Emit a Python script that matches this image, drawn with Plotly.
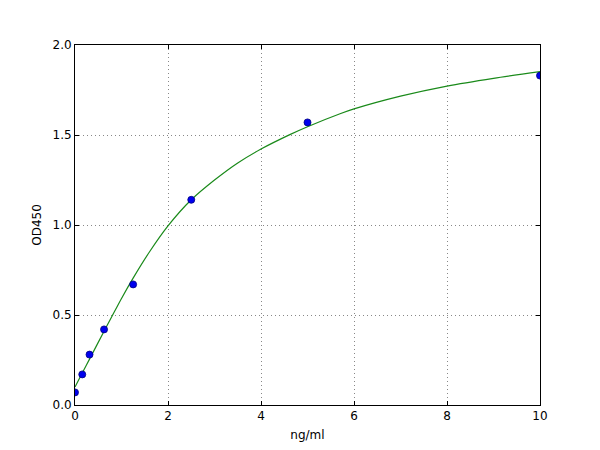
import plotly.graph_objects as go

# standard points
conc = [0, 0.156, 0.3125, 0.625, 1.25, 2.5, 5, 10]
od = [0.07, 0.17, 0.28, 0.42, 0.67, 1.14, 1.57, 1.83]

# fitted curve
fit_x = [0, 0.156, 0.3125, 0.625, 0.79, 1.0, 1.25, 1.6, 2.0, 2.5, 3.0, 3.5,
         4.0, 4.62, 5.0, 5.7, 6.0, 7.0, 8.0, 9.0, 10.0]
fit_y = [0.10, 0.178, 0.255, 0.41, 0.49, 0.592, 0.705, 0.85, 0.995, 1.14, 1.25, 1.345,
         1.422, 1.502, 1.546, 1.618, 1.645, 1.716, 1.772, 1.815, 1.852]

fig = go.Figure()

fig.add_trace(go.Scatter(
    x=fit_x, y=fit_y, mode='lines',
    line=dict(color='#1a8a1a', width=1.2, shape='spline', smoothing=0.8),
    hoverinfo='skip'
))

fig.add_trace(go.Scatter(
    x=conc, y=od, mode='markers',
    marker=dict(size=7, color='#0000ee', line=dict(color='#000080', width=0.8)),
    cliponaxis=True
))

axis_style = dict(
    showline=True, linecolor='black', linewidth=1, mirror='ticks',
    ticks='inside', ticklen=4, tickcolor='black',
    showgrid=True, gridcolor='#888888', gridwidth=1, griddash='1px,3px',
    zeroline=False,
    tickfont=dict(family='DejaVu Sans', size=12, color='black'),
)

fig.update_xaxes(range=[0, 10], tickvals=[0, 2, 4, 6, 8, 10],
                 title=dict(text='ng/ml', standoff=8,
                            font=dict(family='DejaVu Sans', size=12, color='black')),
                 **axis_style)
fig.update_yaxes(range=[0, 2.0], tickvals=[0, 0.5, 1.0, 1.5, 2.0],
                 tickformat='.1f',
                 title=dict(text='OD450', standoff=8,
                            font=dict(family='DejaVu Sans', size=12, color='black')),
                 **axis_style)

# page body adds an 8px offset, margins compensate for it
fig.update_layout(
    width=600, height=450,
    margin=dict(l=67, r=68, t=37, b=53),
    paper_bgcolor='white', plot_bgcolor='white',
    showlegend=False,
    font=dict(family='DejaVu Sans', size=12, color='black'),
)

fig.write_html("out.html")
